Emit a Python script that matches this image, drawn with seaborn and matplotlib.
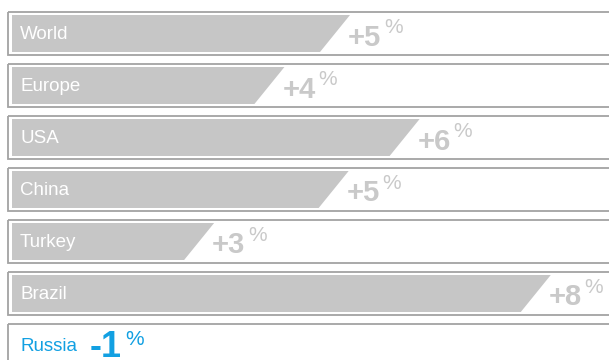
import matplotlib
matplotlib.use("Agg")
import matplotlib.pyplot as plt
from matplotlib.patches import Polygon, Rectangle
import seaborn as sns

# ---- datos ----
regions = ["World", "Europe", "USA", "China", "Turkey", "Brazil", "Russia"]
growth = [5.0, 4.03, 6.03, 4.98, 2.99, 7.97, -1.0]
labels = ["+5", "+4", "+6", "+5", "+3", "+8", "-1"]

BAR_GREY = "#c6c6c6"
TEXT_GREY = "#c9c9c9"
BORDER = "#a3a3a3"
BLUE = "#12a0e2"

sns.set_theme(style="white")
plt.rcParams["font.family"] = ["Liberation Sans", "DejaVu Sans"]

PX = 67.6       # pixeles por unidad de crecimiento
PITCH = 52.0    # pixeles por fila

fig = plt.figure(figsize=(6.09, 3.6), dpi=100)
ax = fig.add_axes([0, 0, 1, 1])

sns.barplot(x=growth, y=regions, orient="h", color=BAR_GREY,
            width=37 / PITCH, ax=ax, saturation=1)
bars = list(ax.patches)

ax.set_xlim(-12 / PX, 597 / PX)
ax.set_ylim((360 - 33.5) / PITCH, -33.5 / PITCH)
ax.axis("off")

# barras con el extremo derecho inclinado
slant = 30 / PX
for p in bars:
    x0, w, y0, h = p.get_x(), p.get_width(), p.get_y(), p.get_height()
    p.set_visible(False)
    if w <= 0:
        continue
    ax.add_patch(Polygon([(x0, y0), (x0 + w, y0), (x0 + w - slant, y0 + h),
                          (x0, y0 + h)], closed=True, facecolor=BAR_GREY,
                         edgecolor="none", zorder=2))

# cajas de cada fila
for i in range(len(regions)):
    ax.add_patch(Rectangle((-4 / PX, i - 21.5 / PITCH), 20, 43 / PITCH,
                           facecolor="none", edgecolor=BORDER, lw=1.3,
                           zorder=1))

for i, (name, v, lab) in enumerate(zip(regions, growth, labels)):
    neg = v < 0
    col = BLUE if neg else TEXT_GREY
    ax.text(8 / PX, i + 5.5 / PITCH, name, color=BLUE if neg else "white",
            fontsize=13.5, va="baseline", ha="left", zorder=3)
    tx = 78 / PX if neg else v - 0.03
    t = ax.text(tx, i + 12 / PITCH, lab, color=col,
                fontsize=26 if neg else 21, fontweight="bold",
                va="baseline", ha="left", zorder=3)
    ax.annotate("%", xy=(1, i - 0.5 / PITCH), xycoords=(t, "data"),
                xytext=(2, 0), textcoords="offset points", color=col,
                fontsize=15, va="baseline", ha="left", zorder=3)

plt.savefig("out.png", dpi=100, facecolor="white")
